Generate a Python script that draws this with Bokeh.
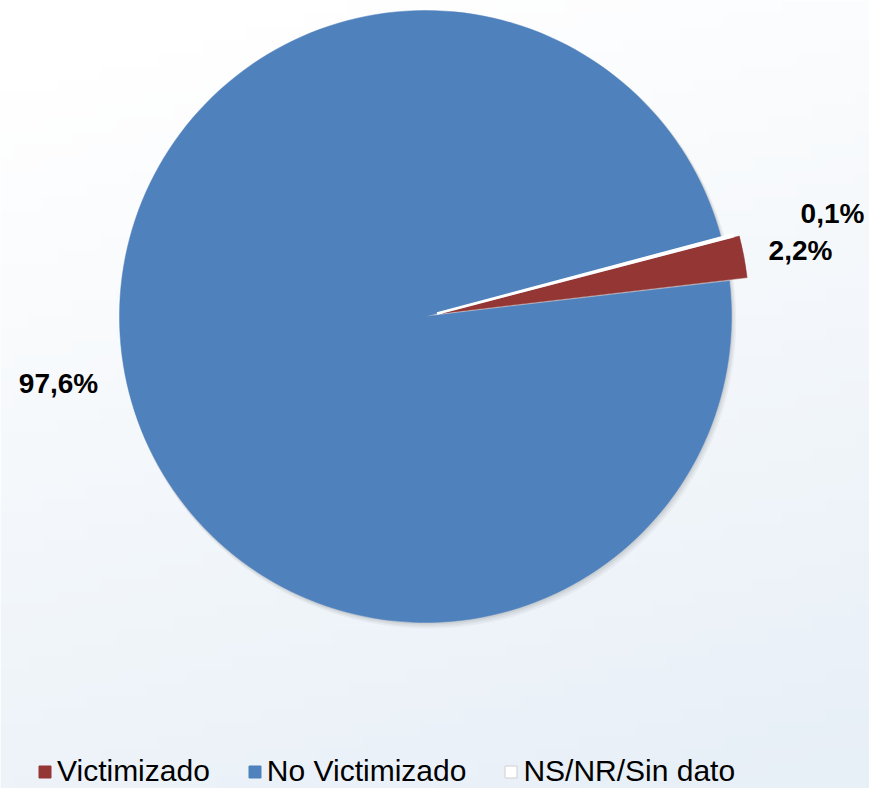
import numpy as np
from bokeh.plotting import figure
from bokeh.models import Range1d, Legend, LegendItem, Label
from bokeh.embed import file_html
from bokeh.resources import INLINE

# ---- data ----
categories = ["Victimizado", "No Victimizado", "NS/NR/Sin dato"]
shares = [2.2, 97.6, 0.1]
share_labels = ["2,2%", "97,6%", "0,1%"]
colors = ["#943634", "#4F81BD", "#FFFFFF"]

W, H = 869, 788
p = figure(width=W, height=H, output_backend="svg", toolbar_location=None,
           x_range=Range1d(0, W), y_range=Range1d(0, H),
           min_border=0, outline_line_color=None)
p.axis.visible = False
p.grid.visible = False
p.background_fill_color = "white"
p.border_fill_color = "white"

# background gradient (decoration)
ny, nx = 60, 60
img = np.empty((ny, nx), dtype=np.uint32)
v = img.view(dtype=np.uint8).reshape((ny, nx, 4))
yy = np.linspace(0, 1, ny)[:, None]   # 0 = bottom
xx = np.linspace(0, 1, nx)[None, :]
t = np.clip((1 - yy) * 0.85 + xx * 0.25 - 0.1, 0, 1)
v[:, :, 0] = (255 - 24 * t).astype(np.uint8)
v[:, :, 1] = (255 - 16 * t).astype(np.uint8)
v[:, :, 2] = (255 - 8 * t).astype(np.uint8)
v[:, :, 3] = 255
p.image_rgba(image=[img], x=0, y=0, dw=W, dh=H)

# pie geometry (screen-pixel data space, y up)
cx, cy, R = 425, H - 316, 306
total = sum(shares)
start0 = np.radians(14.6)
explode = [18, 0, 12]
fr = np.array(shares) / total * 2 * np.pi
cum = np.concatenate([[0], np.cumsum(fr)])
starts = start0 - cum[1:]
ends = start0 - cum[:-1]
mids = (starts + ends) / 2
xs = cx + np.array(explode) * np.cos(mids)
ys = cy + np.array(explode) * np.sin(mids)

# soft shadow
for k, a in [(6, 0.04), (4, 0.05), (2, 0.06)]:
    p.circle(x=cx + k * 0.5, y=cy - k * 0.7, radius=R + k * 0.3,
             fill_color="black", fill_alpha=a, line_color=None)

renderers = [None] * 3
for i in [1, 0, 2]:
    if i == 2:
        r = p.wedge(x=xs[i], y=ys[i], radius=R, start_angle=starts[i], end_angle=ends[i],
                    fill_color=colors[i], line_color="#FFFFFF", line_width=2.5)
    else:
        r = p.wedge(x=xs[i], y=ys[i], radius=R, start_angle=starts[i], end_angle=ends[i],
                    fill_color=colors[i], line_color=colors[i], line_width=0.5)
    renderers[i] = r

# data labels
lab_pos = {0: (800, 250), 1: (58, 383), 2: (832, 213)}
for i, txt in enumerate(share_labels):
    lx, ly = lab_pos[i]
    p.add_layout(Label(x=lx, y=H - ly, text=txt, text_font="Liberation Sans",
                       text_font_style="bold", text_font_size="28px", text_color="black",
                       text_align="center", text_baseline="middle"))

legend_renderers = []
for i in range(3):
    lr = p.rect(x=[-100], y=[-100], width=1, height=1, fill_color=colors[i],
                line_color="#D0D0D0" if i == 2 else colors[i])
    legend_renderers.append(lr)

legend = Legend(items=[LegendItem(label=categories[i], renderers=[legend_renderers[i]]) for i in range(3)],
                orientation="horizontal", location=(37, 0),
                label_text_font="Liberation Sans", label_text_font_size="30px",
                label_text_color="black", glyph_width=15, glyph_height=15,
                label_standoff=5, spacing=37, padding=0, margin=0,
                background_fill_alpha=0, border_line_color=None,
                label_height=30)
p.add_layout(legend, "center")

open("out.html", "w").write(file_html(p, INLINE))
